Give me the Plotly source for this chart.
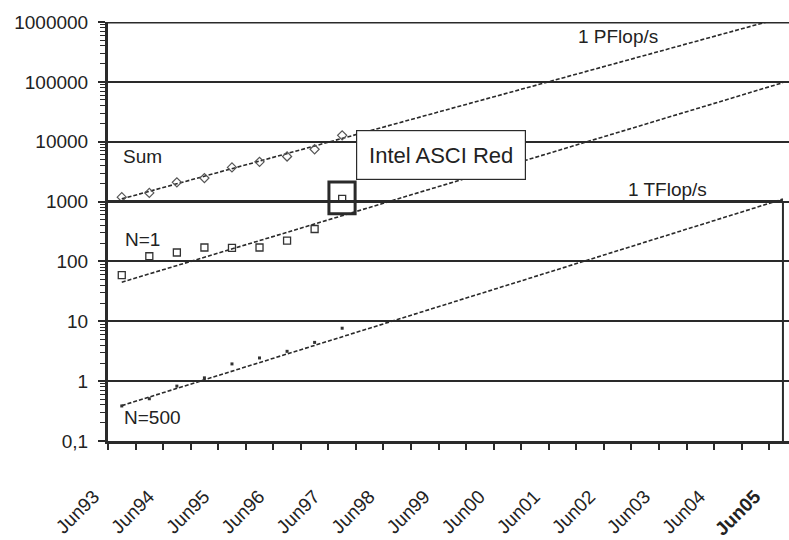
import plotly.graph_objects as go

# ---------------- data ----------------
periods = ["Jun93", "Nov93", "Jun94", "Nov94", "Jun95", "Nov95", "Jun96", "Nov96",
           "Jun97", "Nov97", "Jun98", "Nov98", "Jun99", "Nov99", "Jun00", "Nov00",
           "Jun01", "Nov01", "Jun02", "Nov02", "Jun03", "Nov03", "Jun04", "Nov04", "Jun05"]
data_periods = periods[:9]

sum_vals = [1183, 1394, 2099, 2472, 3724, 4613, 5666, 7480, 12800]      # GFlop/s
n1_vals = [59.2, 122, 141, 171, 169, 171, 223, 348, 1109]
n500_vals = [0.385, 0.508, 0.826, 1.135, 1.94, 2.44, 3.15, 4.44, 7.66]

trend_periods = ["Jun93", "Jun05"]
sum_trend = [1109, 1190000]
n1_trend = [45, 97000]
n500_trend = [0.39, 1100]

y_tickvals = [0.1, 1, 10, 100, 1000, 10000, 100000, 1000000]
y_ticktext = ["0,1", "1", "10", "100", "1000", "10000", "100000", "1000000"]
x_ticklabels = [p for p in periods if p.startswith("Jun")]

asci_period = "Jun97"
asci_value = 1109
tflop_value = 1000
pflop_value = 1000000
tflop_period = "Jun05"

# ---------------- helpers ----------------
pos = {p: i for i, p in enumerate(periods)}
FONT = "Liberation Sans, Arial, sans-serif"
INK = "#2a2a2a"
XRANGE = [-0.5, 24.22]

fig = go.Figure()

# trend lines
for tr in (sum_trend, n1_trend, n500_trend):
    fig.add_trace(go.Scatter(
        x=[pos[p] for p in trend_periods], y=tr, mode="lines",
        line=dict(color=INK, width=1.6, dash="4px,2px"),
        hoverinfo="skip", showlegend=False))

# data markers
fig.add_trace(go.Scatter(
    x=[pos[p] for p in data_periods], y=sum_vals, mode="markers", name="Sum",
    marker=dict(symbol="diamond-open", size=7, color="#555", line=dict(width=1.2)),
    showlegend=False))
fig.add_trace(go.Scatter(
    x=[pos[p] for p in data_periods], y=n1_vals, mode="markers", name="N=1",
    marker=dict(symbol="square-open", size=7, color="#333", line=dict(width=1.3)),
    showlegend=False))
fig.add_trace(go.Scatter(
    x=[pos[p] for p in data_periods], y=n500_vals, mode="markers", name="N=500",
    marker=dict(symbol="square", size=3, color="#333"),
    showlegend=False))

# invisible trace carrying the secondary x axis (category boundary ticks)
fig.add_trace(go.Scatter(x=[XRANGE[0]], y=[1], xaxis="x2", yaxis="y",
                         mode="markers", marker=dict(opacity=0),
                         hoverinfo="skip", showlegend=False))

# thick 1 TFlop/s line, vertical drop line, top 1 PFlop/s border
fig.add_shape(type="line", xref="x", yref="y", x0=-0.5, x1=pos[tflop_period],
              y0=tflop_value, y1=tflop_value, line=dict(color=INK, width=3))
fig.add_shape(type="line", xref="x", yref="y", x0=pos[tflop_period], x1=pos[tflop_period],
              y0=0.1, y1=tflop_value, line=dict(color=INK, width=2))
fig.add_shape(type="line", xref="paper", yref="y", x0=0, x1=1,
              y0=pflop_value, y1=pflop_value, line=dict(color=INK, width=3))

# square around ASCI Red point
fig.add_shape(type="rect", xref="x", yref="y",
              x0=pos[asci_period] - 0.48, x1=pos[asci_period] + 0.47,
              y0=asci_value / 1.77, y1=asci_value * 1.92,
              line=dict(color=INK, width=3))

ann_font = dict(family=FONT, size=19, color="#222")
fig.add_annotation(xref="paper", yref="paper", x=0.4897, y=0.6815,
                   xanchor="center", yanchor="middle",
                   text="Intel ASCI Red", showarrow=False,
                   font=dict(family=FONT, size=22, color="#222"),
                   bordercolor=INK, borderwidth=1.2, width=166, height=46,
                   bgcolor="white")
for txt, px, py in (("Sum", 0.05, 0.680), ("N=1", 0.05, 0.482),
                    ("N=500", 0.066, 0.055), ("1 PFlop/s", 0.749, 0.966),
                    ("1 TFlop/s", 0.822, 0.601)):
    fig.add_annotation(xref="paper", yref="paper", x=px, y=py, text=txt,
                       showarrow=False, font=ann_font,
                       xanchor="center", yanchor="middle")

fig.update_layout(
    width=789, height=540,
    margin=dict(l=108, r=0, t=22, b=97),
    paper_bgcolor="white", plot_bgcolor="white",
    showlegend=False,
    font=dict(family=FONT, color="#222"),
    xaxis=dict(
        range=XRANGE,
        tickmode="array",
        tickvals=[pos[p] for p in x_ticklabels],
        ticktext=[("<b>%s</b>" % p) if p == "Jun05" else p for p in x_ticklabels],
        tickangle=-45, ticks="",
        tickfont=dict(family=FONT, size=19, color="#222"),
        ticklabelshift=-28, ticklabelstandoff=34,
        showgrid=False, zeroline=False,
        showline=True, linewidth=3, linecolor=INK,
    ),
    xaxis2=dict(
        range=XRANGE, overlaying="x", anchor="y", side="bottom",
        tickmode="linear", tick0=-0.5, dtick=1,
        ticks="outside", ticklen=8, tickwidth=2, tickcolor=INK,
        showticklabels=False, showgrid=False, zeroline=False, showline=False,
    ),
    yaxis=dict(
        type="log", range=[-1, 6],
        tickmode="array", tickvals=y_tickvals, ticktext=y_ticktext,
        ticks="outside", ticklen=7, tickwidth=2, tickcolor=INK,
        tickfont=dict(family=FONT, size=19, color="#222"),
        ticklabelstandoff=6,
        showgrid=True, gridcolor=INK, gridwidth=1.5,
        zeroline=False, showline=True, linewidth=3, linecolor=INK,
        minor=dict(ticks="outside", ticklen=5, tickwidth=1.2, tickcolor=INK,
                   dtick="D1", showgrid=False),
    ),
)

fig.write_html("out.html")
